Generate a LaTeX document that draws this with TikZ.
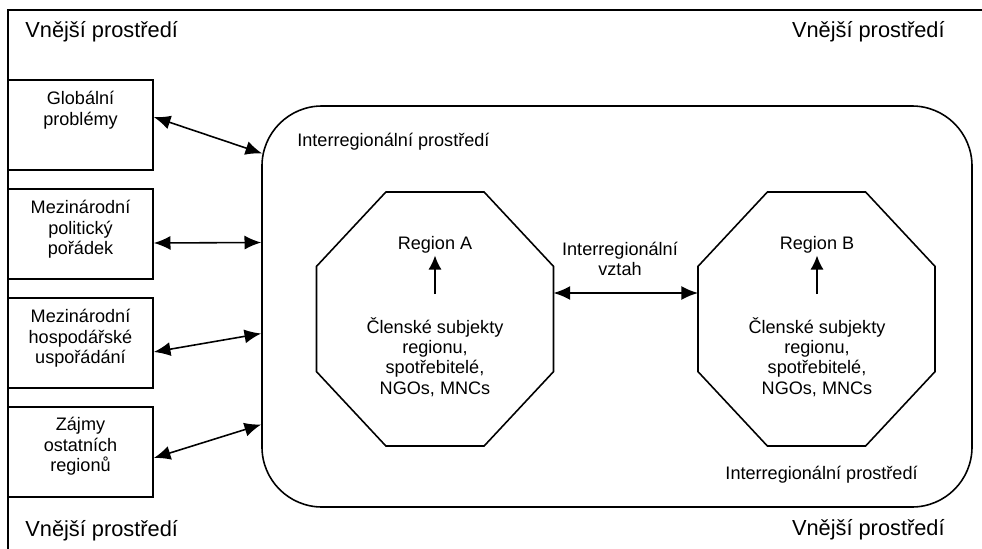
\documentclass[tikz,border=0pt]{standalone}
\usepackage{fontspec}
\setmainfont{Liberation Sans}
\usetikzlibrary{calc,shapes.geometric,arrows.meta}

\tikzset{
  lbox/.style={draw, line width=.9pt, minimum width=2.9cm, minimum height=1.8cm, inner sep=0pt},
  ltext/.style={align=center, inner sep=0pt, font=\fontsize{10.3}{11.6}\selectfont},
  btext/.style={inner sep=0pt, font=\fontsize{12.4}{14}\selectfont},
  octa/.style={draw, line width=.9pt, regular polygon, regular polygon sides=8,
    minimum size=5.5cm, inner sep=0pt, outer sep=0pt, xscale=.933, transform shape},
  dbl/.style={{Latex[length=9.5pt,width=8pt]}-{Latex[length=9.5pt,width=8pt]}, line width=.9pt},
  uparr/.style={-{Latex[length=8pt,width=7.5pt]}, line width=.9pt}
}

\begin{document}
\begin{tikzpicture}[x=0.2mm, y=-0.2mm]
    \useasboundingbox (0,0) rectangle (982,549);
    \draw[line width=.9pt] (982,10) -- (8,10) -- (8,549);

    \node (Vtl) at (25,32)   [btext, anchor=west] {Vnější prostředí};
    \node (Vtr) at (945,32)  [btext, anchor=east] {Vnější prostředí};
    \node (Vbl) at (25,531)  [btext, anchor=west] {Vnější prostředí};
    \node (Vbr) at (945,530) [btext, anchor=east] {Vnější prostředí};

    % outside factors
    \node (glob)  at (80.5,125) [lbox] {};
    \node (polit) at (80.5,234) [lbox] {};
    \node (hosp)  at (80.5,343) [lbox] {};
    \node (zajmy) at (80.5,452) [lbox] {};
    \node (globT)  at ($(glob.north)+(0,12)$)  [ltext, anchor=north] {Globální\\problémy};
    \node (politT) at ($(polit.north)+(0,12)$) [ltext, anchor=north] {Mezinárodní\\politický\\pořádek};
    \node (hospT)  at ($(hosp.north)+(0,12)$)  [ltext, anchor=north] {Mezinárodní\\hospodářské\\uspořádání};
    \node (zajmyT) at ($(zajmy.north)+(0,11)$) [ltext, anchor=north] {Zájmy\\ostatních\\regionů};

    % interregional environment
    \node (inter) at (617,306.5) [draw, line width=.9pt, rounded corners=1.2cm,
      minimum width=14.2cm, minimum height=8.02cm, inner sep=0pt] {};
    \node (intT) at (297,142) [ltext, anchor=west] {Interregionální prostředí};
    \node (intB) at (918,475) [ltext, anchor=east] {Interregionální prostředí};

    % regions
    \node (regA) at (435,319) [octa] {};
    \node (regB) at (816.5,319) [octa] {};
    \node (nameA) at (435,245) [ltext] {Region A};
    \node (nameB) at (817,245) [ltext] {Region B};
    \node (memA) at (435,357) [ltext] {Členské subjekty\\regionu,\\spotřebitelé,\\NGOs, MNCs};
    \node (memB) at (817,357) [ltext] {Členské subjekty\\regionu,\\spotřebitelé,\\NGOs, MNCs};
    \node (vztah) at (620,259) [ltext] {Interregionální\\vztah};

    \draw[uparr, shorten <=0.46cm, shorten >=1pt] (memA.north) to (nameA.south);
    \draw[uparr, shorten <=0.46cm, shorten >=1pt] (memB.north) to (nameB.south);
    \draw[dbl] ($(regA.east)+(0,-26)$) to ($(regB.west)+(0,-26)$);

    \draw[dbl] ($(glob.east)+(0,-8)$) to ($(inter.west)+(1,-153)$);
    \draw[dbl] ($(polit.east)+(0,9)$) to ($(inter.west)+(0,-64)$);
    \draw[dbl] ($(hosp.east)+(0,9)$) to ($(inter.west)+(0,27)$);
    \draw[dbl] ($(zajmy.east)+(0,6)$) to ($(inter.west)+(0,118)$);
\end{tikzpicture}
\end{document}
